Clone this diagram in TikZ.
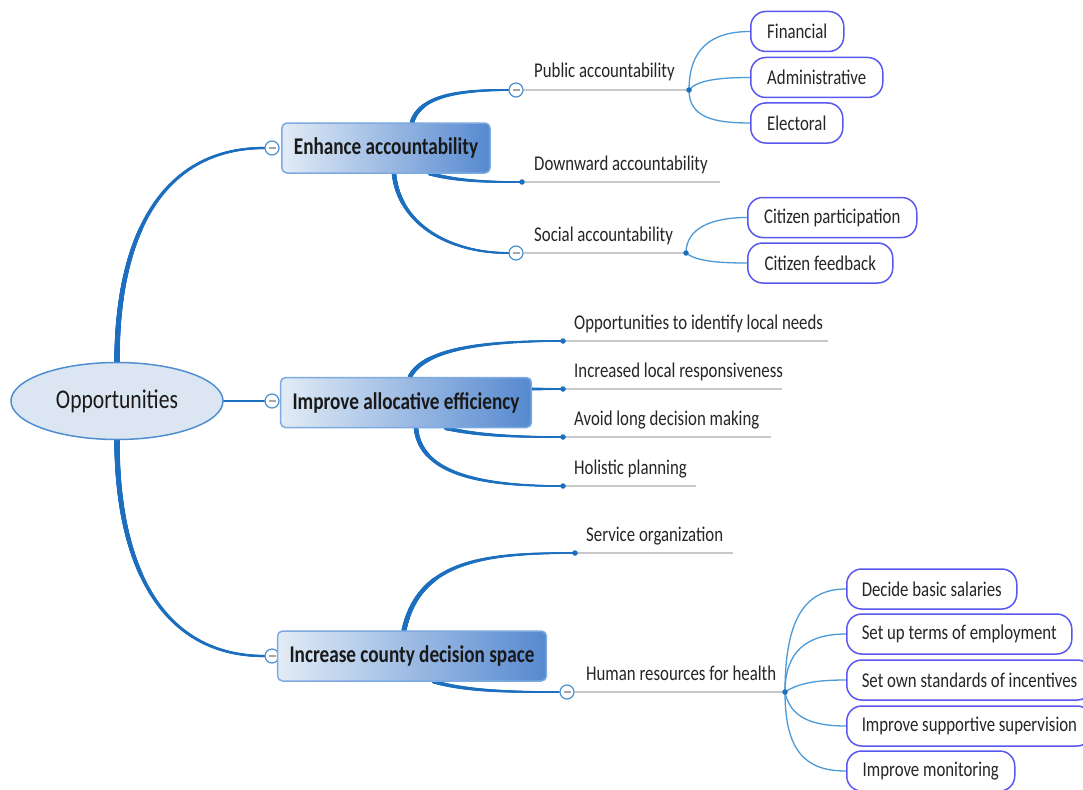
\documentclass[tikz,border=0pt]{standalone}
\usepackage{fontspec}
\setmainfont{Carlito}[FakeStretch=0.8]
\usetikzlibrary{shapes.geometric,decorations.markings}

\definecolor{trunk}{HTML}{1C6EBF}
\definecolor{twig}{HTML}{4C9BD8}
\definecolor{rulegray}{HTML}{C8C8C8}
\definecolor{pill}{HTML}{5858F0}
\definecolor{rootfill}{HTML}{DCE6F2}
\definecolor{rootline}{HTML}{4F8FD0}
\definecolor{boxl}{HTML}{E2ECF6}
\definecolor{boxr}{HTML}{5689D0}
\definecolor{boxline}{HTML}{7DAAE0}
\definecolor{knobline}{HTML}{4A90D0}

\pgfdeclarelayer{paper}
\pgfdeclarelayer{links}
\pgfsetlayers{paper,links,main}

\tikzset{
  x=1pt, y=-1pt,
  rootnode/.style={ellipse, draw=rootline, fill=rootfill, line width=1.5pt,
    minimum width=212pt, minimum height=77pt, text=black!90,
    font=\fontsize{27}{30}\selectfont},
  topic/.style={draw=boxline, line width=1.5pt, rounded corners=5pt,
    left color=boxl, right color=boxr, minimum height=50pt, inner xsep=12pt,
    text=black!90, font=\fontsize{24}{28}\selectfont\bfseries},
  leafbox/.style={draw=pill, line width=1.5pt, rounded corners=15pt, fill=white,
    minimum height=40pt, inner xsep=15pt, anchor=west, text=black!85,
    font=\fontsize{21}{24}\selectfont},
  leaftext/.style={anchor=base west, inner sep=0pt, text=black!85,
    font=\fontsize{21}{24}\selectfont},
  knob/.style={circle, draw=knobline, fill=white, line width=1.2pt,
    minimum size=14pt, inner sep=0pt,
    path picture={\draw[draw=gray!70, line width=1.6pt]
      ([xshift=-3.5pt]path picture bounding box.center) --
      ([xshift=3.5pt]path picture bounding box.center);}},
  dot/.style={circle, fill=trunk, minimum size=5.5pt, inner sep=0pt},
  trunkline/.style={draw=trunk, line cap=round},
  rulestroke/.style={draw=rulegray, line width=1.5pt},
  twigline/.style={draw=twig, line width=1.3pt},
  % stroke whose width runs from #1 at the start to #2 at the end
  taper/.style 2 args={line width=#2pt, postaction={decorate, decoration={markings,
    mark=between positions 0 and 1 step 0.5pt with {
      \pgfmathsetmacro\tprad{(#1+(#2-#1)*\pgfkeysvalueof{/pgf/decoration/mark info/distance from start}/\pgfdecoratedpathlength)/2}
      \fill[trunk] (0,0) circle[radius=\tprad pt];
    }}}},
}

\begin{document}
\begin{tikzpicture}
\begin{pgfonlayer}{paper}
  \fill[white] (0,0) rectangle (1083,789);
\end{pgfonlayer}
\useasboundingbox (0,0) rectangle (1083,789);

% central idea and main topics
\node[rootnode] (root) at (117,401) {Opportunities};
\node[knob] (k1) at (272,148) {};
\node[knob] (k2) at (272,401) {};
\node[knob] (k3) at (272,656) {};
\node[topic, minimum width=208pt] (t1) at (386,148) {Enhance accountability};
\node[topic, minimum width=248pt] (t2) at (406,402.5) {Improve allocative efficiency};
\node[topic, minimum width=260pt] (t3) at (412,656) {Increase county decision space};

% subtopic knobs and dots
\node[knob] (kpub) at (516,90) {};
\node[knob] (ksoc) at (516,253) {};
\node[knob] (khr) at (567,692) {};
\node[dot] (dpub) at (689,90) {};
\node[dot] (ddown) at (522,182) {};
\node[dot] (dsoc) at (686,253) {};
\node[dot] (dneeds) at (563,341) {};
\node[dot] (dresp) at (563,389) {};
\node[dot] (davoid) at (563,437) {};
\node[dot] (dhol) at (563,486) {};
\node[dot] (dserv) at (575,553) {};
\node[dot] (dhr) at (785,692) {};

% ends of the underlines
\coordinate (edown) at (720,182);
\coordinate (eneeds) at (828,341);
\coordinate (eresp) at (782,389);
\coordinate (eavoid) at (771,437);
\coordinate (ehol) at (696,486);
\coordinate (eserv) at (733,553);

% subtopic texts
\node[leaftext] (lpub) at (534,78) {Public accountability};
\node[leaftext] (ldown) at (534,170) {Downward accountability};
\node[leaftext] (lsoc) at (534,241) {Social accountability};
\node[leaftext] (lneeds) at (574,329) {Opportunities to identify local needs};
\node[leaftext] (lresp) at (574,377) {Increased local responsiveness};
\node[leaftext] (lavoid) at (574,425) {Avoid long decision making};
\node[leaftext] (lhol) at (574,474) {Holistic planning};
\node[leaftext] (lserv) at (586,541) {Service organization};
\node[leaftext] (lhr) at (586,680) {Human resources for health};

% detail boxes
\node[leafbox, minimum width=93pt] (fin) at (750,31.5) {Financial};
\node[leafbox, minimum width=132pt] (adm) at (750,77.5) {Administrative};
\node[leafbox, minimum width=92pt] (ele) at (750,123) {Electoral};
\node[leafbox, minimum width=169pt] (cpar) at (747,217.5) {Citizen participation};
\node[leafbox, minimum width=145pt] (cfb) at (747,263) {Citizen feedback};
\node[leafbox, minimum width=169pt] (sal) at (846,589) {Decide basic salaries};
\node[leafbox, minimum width=225pt] (terms) at (846,634) {Set up terms of employment};
\node[leafbox, minimum width=240pt] (inc) at (846,680) {Set own standards of incentives};
\node[leafbox, minimum width=240pt] (sup) at (846,726) {Improve supportive supervision};
\node[leafbox, minimum width=168pt] (mon) at (846,771) {Improve monitoring};

\begin{pgfonlayer}{links}
  % central idea to main topics
  \draw[trunkline, taper={5.5}{2.2}] (root.north) .. controls +(0,-130) and +(-100,0) .. (k1.west);
  \draw[trunkline, line width=2pt] (root.east) -- (k2.west);
  \draw[trunkline, taper={5.5}{2.2}] (root.south) .. controls +(0,130) and +(-100,0) .. (k3.west);

  % Enhance accountability
  \draw[trunkline, taper={4.5}{1.8}] ([xshift=26pt]t1.north) .. controls +(8,-25) and +(-55,0) .. (kpub.west);
  \draw[trunkline, taper={4}{1.5}] ([xshift=44pt]t1.south) .. controls +(30,8) and +(-30,0) .. (ddown.center);
  \draw[trunkline, taper={4.5}{1.8}] ([xshift=8pt]t1.south) .. controls +(5,50) and +(-60,0) .. (ksoc.west);

  % Improve allocative efficiency
  \draw[trunkline, taper={4.5}{1.5}] ([xshift=4pt]t2.north) .. controls +(15,-30) and +(-70,0) .. (dneeds.center);
  \draw[trunkline, taper={3}{1.5}] (t2.east |- dresp) -- (dresp.center);
  \draw[trunkline, taper={4}{1.5}] ([xshift=40pt]t2.south) .. controls +(35,8) and +(-40,0) .. (davoid.center);
  \draw[trunkline, taper={4.5}{1.5}] ([xshift=10pt]t2.south) .. controls +(5,50) and +(-70,0) .. (dhol.center);

  % Increase county decision space
  \draw[trunkline, taper={5}{1.5}] ([xshift=-8pt]t3.north) .. controls +(15,-70) and +(-90,0) .. (dserv.center);
  \draw[trunkline, taper={4}{1.5}] ([xshift=22pt]t3.south) .. controls +(35,10) and +(-45,0) .. (khr.west);

  % underlines
  \draw[rulestroke] (kpub.east) -- (dpub.center);
  \draw[rulestroke] (ddown.center) -- (edown);
  \draw[rulestroke] (ksoc.east) -- (dsoc.center);
  \draw[rulestroke] (dneeds.center) -- (eneeds);
  \draw[rulestroke] (dresp.center) -- (eresp);
  \draw[rulestroke] (davoid.center) -- (eavoid);
  \draw[rulestroke] (dhol.center) -- (ehol);
  \draw[rulestroke] (dserv.center) -- (eserv);
  \draw[rulestroke] (khr.east) -- (dhr.center);

  % thin links to detail boxes
  \draw[twigline] (dpub.center) .. controls +(0,-40) and +(-40,0) .. (fin.west);
  \draw[twigline] (dpub.center) .. controls +(8,-10) and +(-30,0) .. (adm.west);
  \draw[twigline] (dpub.center) .. controls +(0,28) and +(-35,0) .. (ele.west);
  \draw[twigline] (dsoc.center) .. controls +(0,-25) and +(-35,0) .. (cpar.west);
  \draw[twigline] (dsoc.center) .. controls +(10,8) and +(-30,0) .. (cfb.west);
  \draw[twigline] (dhr.center) .. controls +(0,-75) and +(-40,0) .. (sal.west);
  \draw[twigline] (dhr.center) .. controls +(0,-40) and +(-40,0) .. (terms.west);
  \draw[twigline] (dhr.center) .. controls +(15,-10) and +(-25,0) .. (inc.west);
  \draw[twigline] (dhr.center) .. controls +(5,25) and +(-35,0) .. (sup.west);
  \draw[twigline] (dhr.center) .. controls +(0,60) and +(-40,0) .. (mon.west);
\end{pgfonlayer}
\end{tikzpicture}
\end{document}
